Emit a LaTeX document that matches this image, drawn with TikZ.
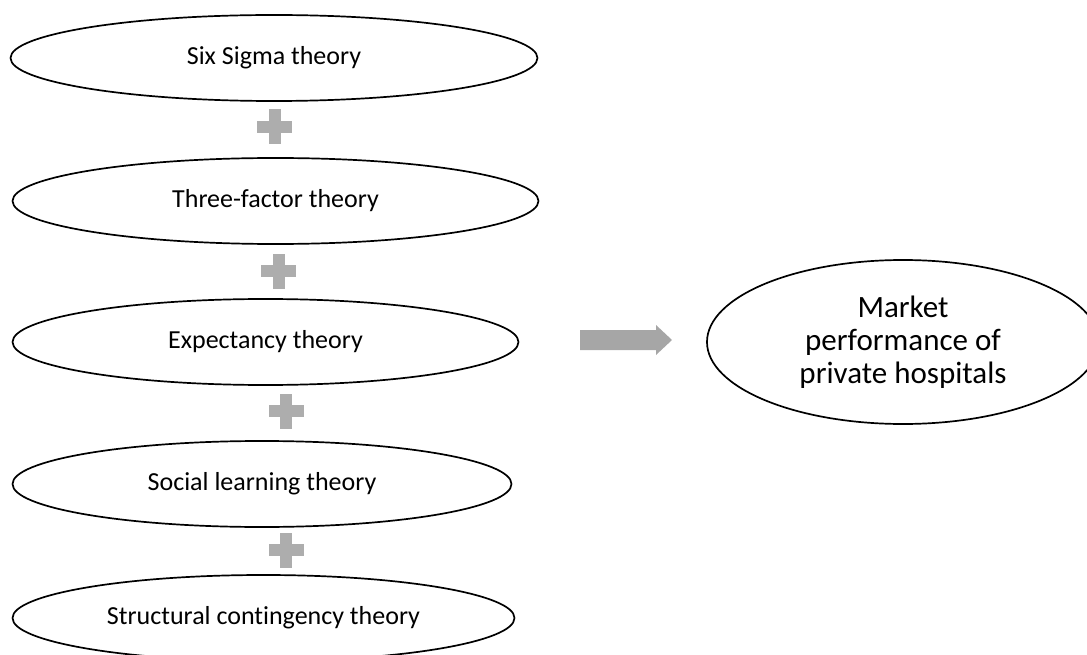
\documentclass[tikz,border=0pt]{standalone}
\usepackage{fontspec}
\setmainfont{Carlito}[Ligatures=NoCommon]
\usetikzlibrary{shapes.geometric}
\definecolor{plusgray}{RGB}{173,173,173}
\definecolor{arrowgray}{RGB}{166,166,166}
\tikzset{
  theory/.style={ellipse, draw=black, line width=1.7pt, inner sep=0pt,
    minimum height=86pt, font=\fontsize{26}{31}\selectfont},
  outcome/.style={ellipse, draw=black, line width=1.7pt, inner sep=0pt,
    align=center, font=\fontsize{31}{33}\selectfont},
  plussign/.style={fill=plusgray},
  blockarrow/.style={fill=arrowgray}
}
\begin{document}
\begin{tikzpicture}[x=1pt,y=-1pt]
\useasboundingbox (0,0) rectangle (1087,655);
\node[theory, minimum width=527pt] (t1) at (274,58) {Six Sigma theory};
\node[theory, minimum width=526pt] (t2) at (275.5,201) {Three-factor theory};
\node[theory, minimum width=506pt] (t3) at (265.5,342) {Expectancy theory};
\node[theory, minimum width=499pt] (t4) at (262,484) {Social learning theory};
\node[theory, minimum width=502pt] (t5) at (263.5,618) {Structural contingency theory};
\foreach \cx/\cy/\nm in {274.5/127/p1, 278.5/271/p2, 286/411/p3, 286/550/p4}{
  \coordinate (\nm) at (\cx,\cy);
  \fill[plussign] ([xshift=-6pt,yshift=17.5pt]\nm) rectangle ([xshift=6pt,yshift=-17.5pt]\nm);
  \fill[plussign] ([xshift=-17.5pt,yshift=6pt]\nm) rectangle ([xshift=17.5pt,yshift=-6pt]\nm);
}
\node[outcome, minimum width=392pt, minimum height=164pt] (mk) at (903,342)
  {Market\\performance of\\private hospitals};
\coordinate (a0) at (580,340);
\fill[blockarrow] (580,330) -- (656,330) -- (656,325) -- (672,340) -- (656,355)
  -- (656,350) -- (580,350) -- cycle;
\end{tikzpicture}
\end{document}
